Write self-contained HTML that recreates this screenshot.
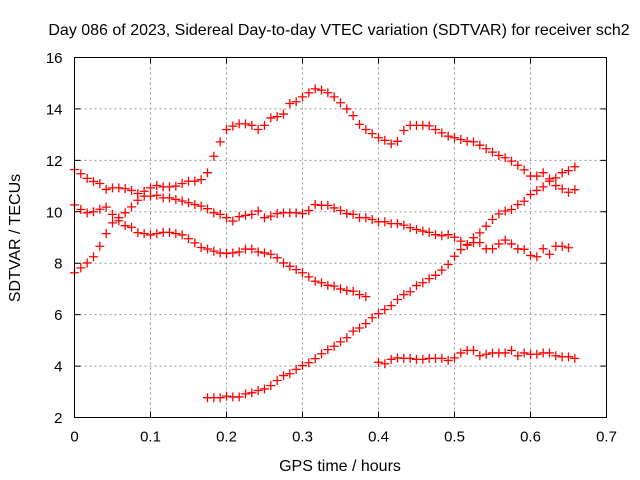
<!DOCTYPE html>
<html><head><meta charset="utf-8"><style>
body{margin:0;background:#fff;}
svg{display:block;font-family:"Liberation Sans",sans-serif;}
</style></head><body>
<svg id="chart" width="640" height="480" viewBox="0 0 640 480" xmlns="http://www.w3.org/2000/svg">
<rect width="640" height="480" fill="#fff"/>
<text x="339" y="35" font-size="16" text-anchor="middle">Day 086 of 2023, Sidereal Day-to-day VTEC variation (SDTVAR) for receiver sch2</text>
<text x="340" y="471" font-size="16" text-anchor="middle">GPS time / hours</text>
<text x="0" y="0" font-size="16" text-anchor="middle" transform="translate(20,238) rotate(-90)">SDTVAR / TECUs</text>
<g id="grid"></g>
<g id="ticks"></g>
<g id="marks"></g>
<rect x="74.5" y="57.5" width="532" height="360" fill="none" stroke="#000" stroke-width="1"/>
</svg>
<script>
const xTicks = [0, 0.1, 0.2, 0.3, 0.4, 0.5, 0.6, 0.7];
const xTickLabels = ["0", "0.1", "0.2", "0.3", "0.4", "0.5", "0.6", "0.7"];
const yTicks = [2, 4, 6, 8, 10, 12, 14, 16];
const yTickLabels = ["2", "4", "6", "8", "10", "12", "14", "16"];
const stepHours = 1 / 120;
const seriesAStart = 0;
const seriesAValues = [7.63,7.82,8.01,8.25,8.66,9.15,9.57,9.77,9.96,10.19,10.45,10.8,10.93,11.02,10.97,10.97,11.0,11.1,11.19,11.19,11.25,11.52,12.16,12.72,13.2,13.33,13.42,13.42,13.36,13.2,13.36,13.65,13.7,13.8,14.21,14.28,14.47,14.63,14.78,14.73,14.63,14.47,14.24,14.0,13.74,13.4,13.2,13.04,12.88,12.78,12.64,12.74,13.16,13.36,13.36,13.36,13.34,13.2,13.07,12.94,12.88,12.81,12.74,12.72,12.59,12.45,12.32,12.19,12.1,11.97,11.81,11.63,11.39,11.39,11.52,11.28,11.02,10.89,10.76,10.86];
const seriesBStart = 0;
const seriesBValues = [11.64,11.48,11.3,11.18,11.1,10.87,10.93,10.93,10.9,10.83,10.71,10.61,10.61,10.64,10.54,10.54,10.48,10.42,10.35,10.28,10.22,10.12,9.96,9.9,9.77,9.64,9.81,9.86,9.9,10.03,9.77,9.83,9.93,9.96,9.96,9.96,9.93,10.05,10.28,10.25,10.25,10.15,10.05,9.93,9.9,9.77,9.77,9.7,9.61,9.61,9.54,9.54,9.48,9.38,9.31,9.25,9.2,9.11,9.07,9.11,9.01,8.86,8.73,8.8,8.8,8.56,8.56,8.75,8.9,8.75,8.56,8.54,8.3,8.25,8.56,8.35,8.66,8.66,8.6];
const seriesCStart = 0;
const seriesCValues = [10.27,10.09,9.96,10.0,10.1,10.18,9.9,9.65,9.46,9.4,9.19,9.15,9.1,9.15,9.2,9.2,9.15,9.1,8.95,8.79,8.61,8.55,8.47,8.4,8.38,8.4,8.44,8.55,8.55,8.44,8.4,8.35,8.21,8.01,7.88,7.75,7.63,7.47,7.3,7.24,7.14,7.11,7.0,6.94,6.91,6.78,6.7];
const seriesDStart = 21;
const seriesDValues = [2.77,2.77,2.77,2.83,2.8,2.8,2.92,2.96,3.05,3.11,3.24,3.44,3.63,3.7,3.87,4.02,4.13,4.29,4.48,4.64,4.77,4.94,5.1,5.36,5.48,5.65,5.88,6.04,6.2,6.35,6.59,6.78,6.89,7.13,7.24,7.4,7.53,7.73,7.95,8.27,8.53,8.7,8.99,9.18,9.44,9.7,9.92,10.03,10.09,10.28,10.41,10.67,10.83,10.97,11.19,11.32,11.52,11.6,11.75];
const seriesEStart = 48;
const seriesEValues = [4.15,4.09,4.26,4.32,4.3,4.3,4.26,4.26,4.3,4.3,4.3,4.22,4.32,4.51,4.61,4.61,4.4,4.46,4.51,4.51,4.51,4.61,4.4,4.51,4.46,4.46,4.51,4.51,4.4,4.36,4.36,4.3];

const NS = "http://www.w3.org/2000/svg";
const L = 74.5, R = 606.5, T = 57.5, B = 417.5;
function xScale(v){ return L + (v - 0) / 0.7 * (R - L); }
function yScale(v){ return B - (v - 2) / 14 * (B - T); }
function mk(tag, attrs, parent){
  const e = document.createElementNS(NS, tag);
  for (const k in attrs) e.setAttribute(k, attrs[k]);
  parent.appendChild(e);
  return e;
}
const grid = document.getElementById('grid');
const ticks = document.getElementById('ticks');
xTicks.forEach((t, i) => {
  const x = xScale(t);
  if (i > 0 && i < xTicks.length - 1) {
    const g = mk('line', {x1:x, x2:x, y1:T, y2:B, stroke:'#999', 'stroke-dasharray':'2,3'}, grid);
    
    
  }
  const tk = mk('path', {d:`M${x},${B}v-6M${x},${T}v6`, stroke:'#000'}, ticks);
  
  
  const lb = mk('text', {x:x, y:B + 24, 'font-size':15, 'text-anchor':'middle'}, ticks);
  lb.textContent = xTickLabels[i];
  
  
});
yTicks.forEach((t, i) => {
  const y = yScale(t);
  if (i > 0 && i < yTicks.length - 1) {
    const g = mk('line', {x1:L, x2:R, y1:y, y2:y, stroke:'#999', 'stroke-dasharray':'2,3'}, grid);
    
    
  }
  const tk = mk('path', {d:`M${L},${y}h6M${R},${y}h-6`, stroke:'#000'}, ticks);
  
  
  const lb = mk('text', {x:L - 12, y:y + 5.5, 'font-size':15, 'text-anchor':'end'}, ticks);
  lb.textContent = yTickLabels[i];
  
  
});
const marks = document.getElementById('marks');
function drawSeries(start, values, name){
  values.forEach((v, k) => {
    const x = xScale((start + k) * stepHours);
    const y = yScale(v);
    const p = mk('path', {d:`M${x-4.5},${y}h9M${x},${y-4.5}v9`, stroke:'#f00', 'stroke-width':1.3, fill:'none'}, marks);
    
    
  });
}
drawSeries(seriesAStart, seriesAValues, 'series-a-point');
drawSeries(seriesBStart, seriesBValues, 'series-b-point');
drawSeries(seriesCStart, seriesCValues, 'series-c-point');
drawSeries(seriesDStart, seriesDValues, 'series-d-point');
drawSeries(seriesEStart, seriesEValues, 'series-e-point');
</script>
</body></html>
